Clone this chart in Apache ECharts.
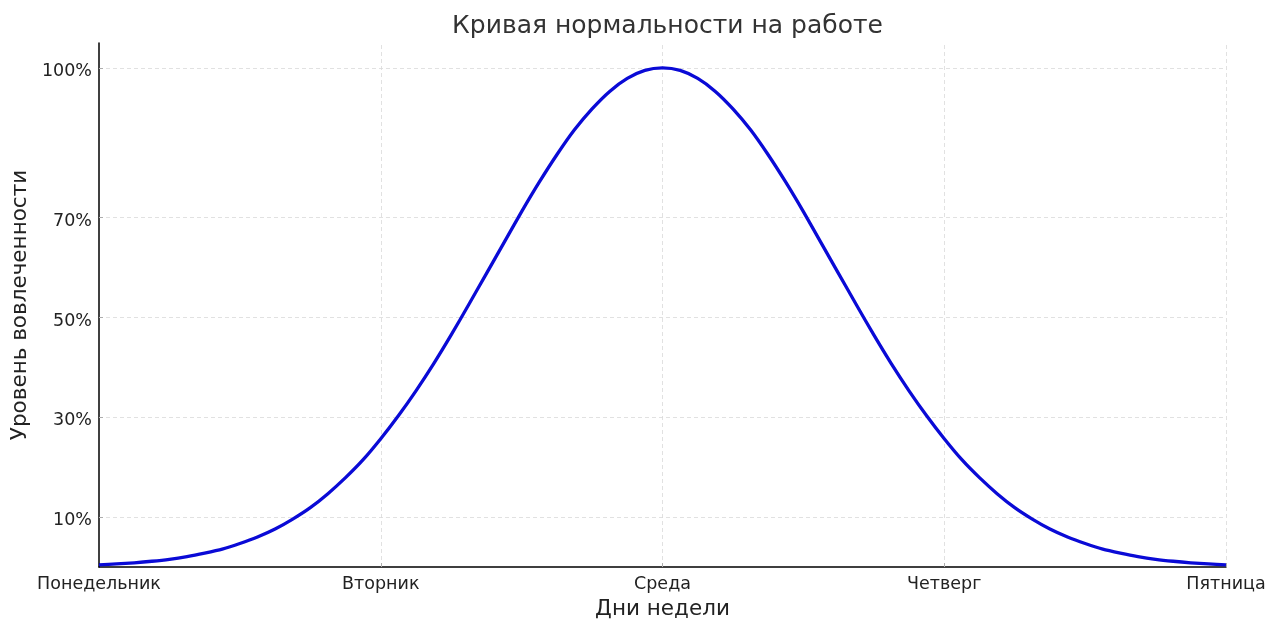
<!DOCTYPE html>
<html>
<head>
<meta charset="utf-8">
<script src="https://cdn.jsdelivr.net/npm/echarts@6/dist/echarts.min.js"></script>
<style>html,body{margin:0;padding:0;background:#fff}#c{width:1280px;height:633px}</style>
</head>
<body>
<div id="c"></div>
<script>
const days = ['Понедельник', 'Вторник', 'Среда', 'Четверг', 'Пятница'];
const xPositions = [
  0, 0.0625, 0.125, 0.1875, 0.25, 0.3125, 0.375, 0.4375, 0.5, 0.5625, 0.625, 0.6875, 0.75, 0.8125, 0.875, 0.9375,
  1, 1.0625, 1.125, 1.1875, 1.25, 1.3125, 1.375, 1.4375, 1.5, 1.5625, 1.625, 1.6875, 1.75, 1.8125, 1.875, 1.9375,
  2, 2.0625, 2.125, 2.1875, 2.25, 2.3125, 2.375, 2.4375, 2.5, 2.5625, 2.625, 2.6875, 2.75, 2.8125, 2.875, 2.9375,
  3, 3.0625, 3.125, 3.1875, 3.25, 3.3125, 3.375, 3.4375, 3.5, 3.5625, 3.625, 3.6875, 3.75, 3.8125, 3.875, 3.9375, 4];
const engagement = [
  0.0043, 0.0061, 0.0084, 0.0115, 0.0155, 0.021, 0.028, 0.036, 0.047, 0.060, 0.076, 0.096, 0.119, 0.147, 0.179, 0.215,
  0.257, 0.303, 0.353, 0.407, 0.465, 0.526, 0.588, 0.650, 0.712, 0.771, 0.826, 0.876, 0.918, 0.953, 0.979, 0.995,
  1.0, 0.995, 0.979, 0.953, 0.918, 0.876, 0.826, 0.771, 0.712, 0.650, 0.588, 0.526, 0.465, 0.407, 0.353, 0.303,
  0.257, 0.215, 0.179, 0.147, 0.119, 0.096, 0.076, 0.060, 0.047, 0.036, 0.028, 0.021, 0.0155, 0.0115, 0.0084, 0.0061, 0.0043];
const yTicks = [0.1, 0.3, 0.5, 0.7, 1.0];
const yTickLabels = ['10%', '30%', '50%', '70%', '100%'];
const xGridDays = [1, 2, 3, 4];

const FONT = 'DejaVu Sans';
const chart = echarts.init(document.getElementById('c'), null, {renderer: 'canvas'});
const gridLineStyle = {type: [4, 3], color: '#d9d9d9', width: 0.8};
const markData = yTicks.map(v => ({yAxis: v})).concat(xGridDays.map(v => ({xAxis: v})));

chart.setOption({
  backgroundColor: '#fff',
  animation: false,
  title: {
    text: 'Кривая нормальности на работе',
    left: 662.5, top: 9, textAlign: 'center',
    textStyle: {fontFamily: FONT, fontSize: 25, fontWeight: 'normal', color: '#333'}
  },
  grid: {left: 99, right: 54, top: 43, bottom: 66},
  xAxis: {
    type: 'value', min: 0, max: 4, interval: 1,
    name: 'Дни недели', nameLocation: 'middle', nameGap: 31,
    nameTextStyle: {fontFamily: FONT, fontSize: 21.5, color: '#222'},
    axisLine: {show: true, onZero: false, lineStyle: {color: '#000', width: 1.5}},
    axisTick: {show: true, inside: true, length: 4, lineStyle: {color: '#000'}},
    axisLabel: {fontFamily: FONT, fontSize: 17.5, color: '#222', margin: 8,
      formatter: v => days[Math.round(v)] || ''},
    splitLine: {show: false}
  },
  yAxis: {
    type: 'value', min: 0, max: 1.05,
    name: 'Уровень вовлеченности', nameLocation: 'middle', nameGap: 64, nameRotate: 90,
    nameTextStyle: {fontFamily: FONT, fontSize: 21.5, color: '#222'},
    axisLine: {show: true, lineStyle: {color: '#000', width: 1.5}},
    axisTick: {show: true, inside: true, length: 4, customValues: yTicks, lineStyle: {color: '#000'}},
    axisLabel: {fontFamily: FONT, fontSize: 17.5, color: '#222', margin: 7, customValues: yTicks,
      rich: {a: {fontFamily: FONT, fontSize: 17.5, color: '#222', padding: [7, 0, 0, 0]}},
      formatter: v => { const i = yTicks.findIndex(t => Math.abs(t - v) < 1e-6); return i >= 0 ? '{a|' + yTickLabels[i] + '}' : ''; }},
    splitLine: {show: false}
  },
  series: [{
    type: 'line',
    data: xPositions.map((x, i) => [x, engagement[i]]),
    smooth: 0.25,
    showSymbol: false,
    lineStyle: {color: '#0a0ad6', width: 3.3, join: 'round'},
    z: 3,
    markLine: {
      silent: true, symbol: ['none', 'none'], label: {show: false},
      lineStyle: gridLineStyle,
      data: markData,
      z: 1
    }
  }]
});
</script>
</body>
</html>
